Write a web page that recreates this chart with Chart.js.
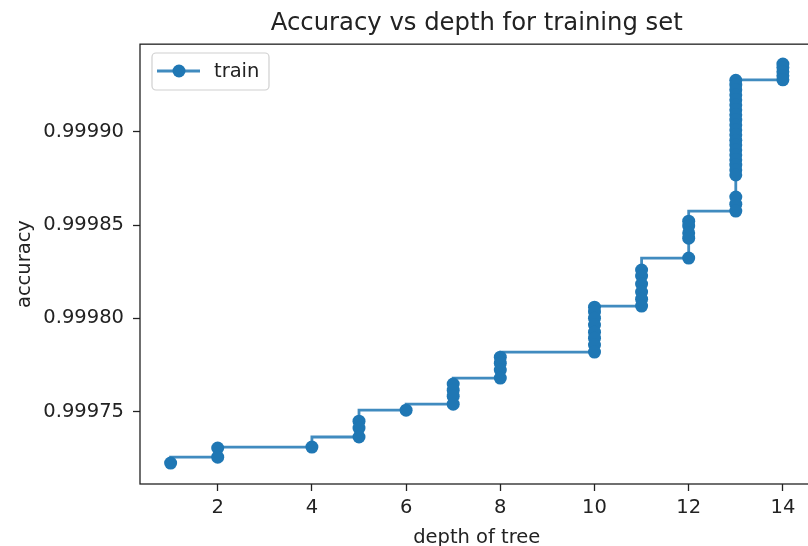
<!DOCTYPE html>
<html>
<head>
<meta charset="utf-8">
<script src="https://cdn.jsdelivr.net/npm/chart.js@4"></script>
<style>
  html, body { margin: 0; padding: 0; background: #fff; overflow: hidden; }
  #grafico { display: block; }
</style>
</head>
<body>
<canvas id="grafico" width="820" height="546"></canvas>
<script>
// profundidade da arvore e acuracia no treino, na ordem do caminho de poda
const depth = [
    14, 14, 14, 14, 14,
    13, 13, 13, 13, 13, 13, 13, 13, 13, 13, 13, 13, 13, 13, 13, 13, 13, 13, 13, 13, 13, 13, 13,
    12, 12, 12, 12, 12,
    11, 11, 11, 11, 11, 11,
    10, 10, 10, 10, 10, 10, 10, 10,
    8, 8, 8, 8,
    7, 7, 7, 7,
    6,
    5, 5, 5,
    4,
    2, 2,
    1
];
const trainAccuracy = [
    0.9999363, 0.9999345, 0.9999322, 0.9999300, 0.9999279,
    0.9999276, 0.9999251, 0.9999226, 0.9999198, 0.9999172, 0.9999144, 0.9999118, 0.9999091,
    0.9999063, 0.9999037, 0.9999010, 0.9998984, 0.9998955, 0.9998930, 0.9998903, 0.9998876,
    0.9998850, 0.9998822, 0.9998796, 0.9998769, 0.9998650, 0.9998612, 0.9998575,
    0.9998521, 0.9998495, 0.9998458, 0.9998430, 0.9998323,
    0.9998259, 0.9998227, 0.9998184, 0.9998141, 0.9998103, 0.9998066,
    0.9998060, 0.9998034, 0.9998001, 0.9997964, 0.9997926, 0.9997894, 0.9997857, 0.9997819,
    0.9997792, 0.9997760, 0.9997723, 0.9997680,
    0.9997648, 0.9997615, 0.9997583, 0.9997540,
    0.9997508,
    0.9997449, 0.9997412, 0.9997364,
    0.9997310,
    0.9997305, 0.9997256,
    0.9997224
];
const xTickStep = 2;
const yTickStep = 0.00005;

const titulo = "Accuracy vs depth for training set";
const rotuloX = "depth of tree";
const rotuloY = "accuracy";
const rotuloSerie = "train";

const azul = "#1f77b4";
const fonte = "DejaVu Sans";

// moldura em volta da area do grafico (como os spines do matplotlib)
const moldura = {
    id: "moldura",
    afterDatasetsDraw(chart) {
        const { ctx, chartArea: a } = chart;
        ctx.save();
        ctx.strokeStyle = "#222";
        ctx.lineWidth = 1.3;
        ctx.strokeRect(a.left, a.top, a.right - a.left, a.bottom - a.top);
        ctx.restore();
    }
};

// legenda com caixa no canto superior esquerdo
const legenda = {
    id: "legenda",
    afterDraw(chart) {
        const { ctx } = chart;
        const ds = chart.data.datasets[0];
        const x = 152, y = 53, w = 117, h = 37, r = 4;
        ctx.save();
        ctx.beginPath();
        ctx.roundRect(x, y, w, h, r);
        ctx.fillStyle = "rgba(255,255,255,0.8)";
        ctx.fill();
        ctx.strokeStyle = "#d0d0d0";
        ctx.lineWidth = 1.2;
        ctx.stroke();

        const cy = y + 18;
        ctx.beginPath();
        ctx.moveTo(x + 5, cy);
        ctx.lineTo(x + 48, cy);
        ctx.strokeStyle = ds.borderColor;
        ctx.lineWidth = ds.borderWidth;
        ctx.stroke();
        ctx.beginPath();
        ctx.arc(x + 27, cy, ds.pointRadius, 0, Math.PI * 2);
        ctx.fillStyle = ds.pointBackgroundColor;
        ctx.fill();

        ctx.fillStyle = "#222";
        ctx.font = "19.5px '" + fonte + "'";
        ctx.textBaseline = "middle";
        ctx.fillText(ds.label, x + 62, cy + 1);
        ctx.restore();
    }
};

const pontos = depth.map((d, i) => ({ x: d, y: trainAccuracy[i] }));

const ctx = document.querySelector("#grafico");
new Chart(ctx, {
    type: "scatter",
    data: {
        datasets: [{
            label: rotuloSerie,
            data: pontos,
            showLine: true,
            stepped: "before",
            borderColor: "rgba(31,119,180,0.85)",
            borderWidth: 2.8,
            pointRadius: 6.5,
            pointHoverRadius: 6.5,
            pointBorderWidth: 0,
            pointBackgroundColor: azul,
            pointBorderColor: azul
        }]
    },
    options: {
        responsive: false,
        animation: false,
        devicePixelRatio: 1,
        layout: { padding: { top: 0, left: 0, right: 0, bottom: 0 } },
        plugins: {
            legend: { display: false },
            tooltip: { enabled: false },
            title: {
                display: true,
                text: titulo,
                fullSize: false,
                color: "#222",
                font: { family: fonte, size: 24.3, weight: "normal", lineHeight: 1.2 },
                padding: { top: 9, bottom: 6 }
            }
        },
        scales: {
            x: {
                type: "linear",
                min: 0.35,
                max: 14.65,
                afterFit(scale) { scale.height = 62; },
                border: { display: false },
                grid: { drawOnChartArea: false, drawTicks: true, tickLength: 7, color: "#222", tickWidth: 1.3 },
                ticks: {
                    stepSize: xTickStep,
                    includeBounds: false,
                    autoSkip: false,
                    maxRotation: 0,
                    padding: 5,
                    color: "#222",
                    font: { family: fonte, size: 19.5 }
                },
                title: {
                    display: true,
                    text: rotuloX,
                    color: "#222",
                    padding: 0,
                    font: { family: fonte, size: 19.5, lineHeight: 0.8 }
                }
            },
            y: {
                type: "linear",
                min: 0.9997112,
                max: 0.9999470,
                afterFit(scale) { scale.width = 140; },
                border: { display: false },
                grid: { drawOnChartArea: false, drawTicks: true, tickLength: 7, color: "#222", tickWidth: 1.3 },
                ticks: {
                    stepSize: yTickStep,
                    precision: 5,
                    includeBounds: false,
                    autoSkip: false,
                    padding: 9,
                    color: "#222",
                    font: { family: fonte, size: 19.5 },
                    callback: valor => valor.toFixed(5)
                },
                title: {
                    display: true,
                    text: rotuloY,
                    color: "#222",
                    padding: { top: 15, bottom: 0 },
                    font: { family: fonte, size: 19.5, lineHeight: 1 }
                }
            }
        }
    },
    plugins: [moldura, legenda]
});
</script>
</body>
</html>
